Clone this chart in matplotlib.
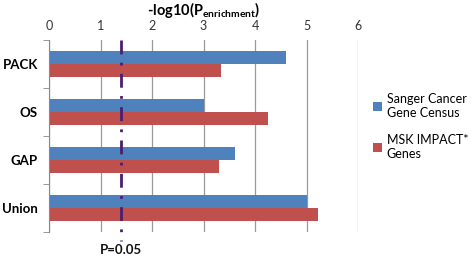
import matplotlib
matplotlib.use('Agg')
import matplotlib.pyplot as plt
import numpy as np

# Data
categories = ['PACK', 'OS', 'GAP', 'Union']
sanger = [4.6, 3.0, 3.61, 5.0]
msk = [3.34, 4.25, 3.30, 5.22]
series_names = ['Sanger Cancer\nGene Census', 'MSK IMPACT*\nGenes']
pval_line = 1.4
pval_label = 'P=0.05'
xticks = [0, 1, 2, 3, 4, 5, 6]

plt.rcParams['font.family'] = ['Lato', 'DejaVu Sans']
plt.rcParams['mathtext.fontset'] = 'custom'
plt.rcParams['mathtext.rm'] = 'Lato:bold'

blue = '#4F81BD'
red = '#C0504D'

fig = plt.figure(figsize=(4.72, 2.58), dpi=100)
ax = fig.add_axes([49 / 472, 1 - 232 / 258, 309 / 472, 192 / 258])

y = np.arange(len(categories))
h = 0.27
ax.barh(y - h / 2, sanger, height=h, color=blue, label=series_names[0], zorder=2)
ax.barh(y + h / 2, msk, height=h, color=red, label=series_names[1], zorder=2)

ax.set_xlim(0, 6)
ax.set_ylim(len(categories) - 0.5, -0.5)

# axis styling
for s in ['top', 'right', 'bottom']:
    ax.spines[s].set_visible(False)
ax.spines['left'].set_color('#888888')
ax.xaxis.tick_top()
ax.set_xticks(xticks)
ax.tick_params(axis='x', length=0, labelsize=9, colors='#333333', pad=6)
ax.grid(axis='x', color='#999999', linewidth=0.9, zorder=0)

ax.set_yticks(y)
ax.set_yticklabels(categories, fontsize=9.5, fontweight='bold')
ax.set_yticks(np.arange(-0.5, len(categories)), minor=True)
ax.tick_params(axis='y', which='major', length=0, pad=8)
ax.tick_params(axis='y', which='minor', length=4, color='#888888')

# p-value line
ax.plot([pval_line, pval_line], [-0.5, 3.68], color='#4B1E6E', linestyle=(0, (5, 3, 1, 3)),
        linewidth=2, clip_on=False, zorder=3)
ax.text(pval_line, 3.87, pval_label, ha='center', va='center', fontsize=9.5,
        fontweight='bold', color='#111111', clip_on=False)

fig.text((49 + 358) / 2 / 472, 1 - 10 / 258, r'-log10(P$_{\mathrm{enrichment}}$)',
         ha='center', va='center', fontsize=10.5, fontweight='bold')

ax.legend(loc='center left', bbox_to_anchor=(1.0, 0.55), frameon=False, fontsize=9,
          handlelength=0.7, handleheight=0.7, handletextpad=0.4, labelspacing=1.2,
          borderaxespad=0.8)

fig.savefig('out.png', dpi=100)
